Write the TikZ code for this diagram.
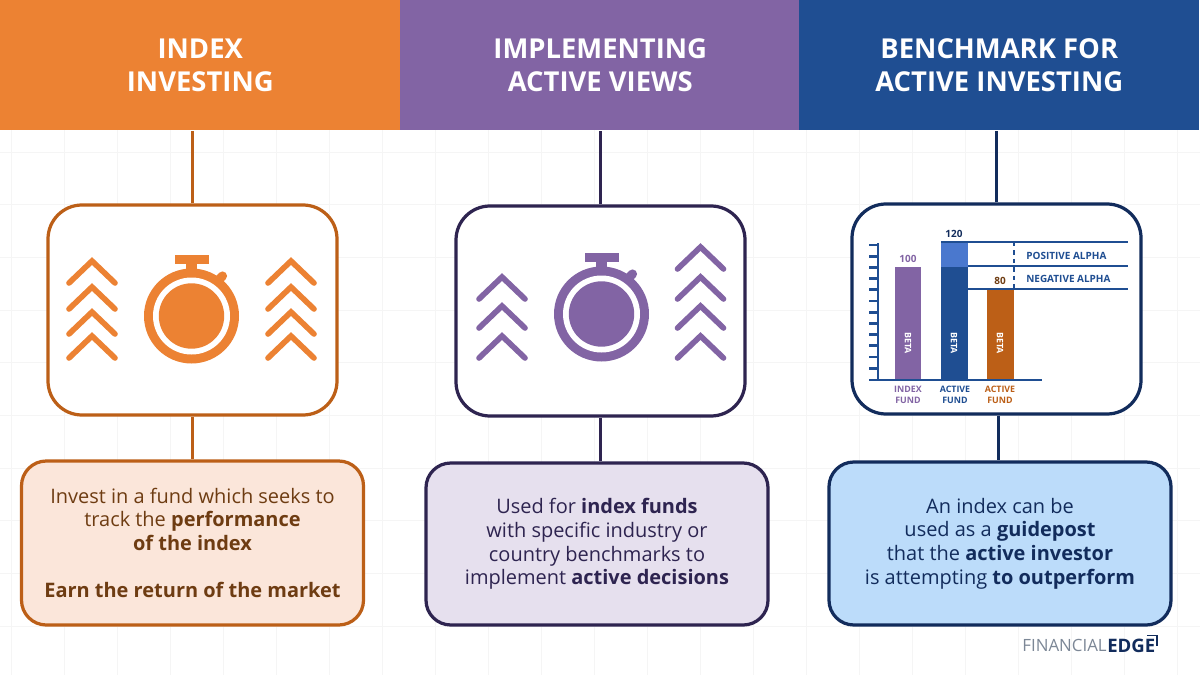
\documentclass[tikz,border=0pt]{standalone}
\usepackage{fontspec}
\setmainfont{Open Sans}
\usetikzlibrary{positioning}
\definecolor{orangehead}{HTML}{EC8233}
\definecolor{orangeline}{HTML}{BC5F17}
\definecolor{orangefill}{HTML}{FBE6DA}
\definecolor{orangetext}{HTML}{6E3C12}
\definecolor{purplehead}{HTML}{8264A4}
\definecolor{purpleline}{HTML}{2E2450}
\definecolor{purplefill}{HTML}{E6E0EE}
\definecolor{bluehead}{HTML}{1F4E92}
\definecolor{blueline}{HTML}{122C5C}
\definecolor{bluefill}{HTML}{BCDCFA}
\definecolor{bluelight}{HTML}{4A78CE}
\definecolor{gridline}{HTML}{F5F5F5}
\definecolor{logogray}{HTML}{7C8796}
\tikzset{
  header/.style={fill=#1, text=white, minimum width=400*0.025cm, minimum height=130*0.025cm,
    inner sep=0pt, align=center, font=\fontsize{19.5}{23.5}\selectfont\bfseries},
  iconbox/.style={draw=#1, fill=white, line width=2.3pt, rounded corners=0.85cm,
    minimum width=289*0.025cm, minimum height=210*0.025cm, inner sep=0pt},
  textbox/.style={draw=#1, line width=2.3pt, rounded corners=0.62cm,
    minimum width=342*0.025cm, inner sep=0pt, align=center,
    font=\fontsize{14.2}{16.8}\selectfont},
  link/.style={draw=#1, line width=2.3pt},
  chevron/.style={draw=#1, line width=4pt, line cap=round},
  chartlabel/.style={text=#1, font=\fontsize{7.1}{7.9}\selectfont\bfseries, align=center, inner sep=0pt},
  fundlabel/.style={text=#1, font=\fontsize{6.3}{7.9}\selectfont\bfseries, align=center, inner sep=0pt},
  alphaline/.style={draw=bluehead, line width=0.9pt}
}
% one chevron, #1 colour, apex at (#2,#3)
\newcommand{\chev}[3]{\draw[chevron=#1] (#2-23,#3+22) -- (#2,#3) -- (#2+23,#3+22);}
% stopwatch, #1 colour, centre (#2,#3)
\newcommand{\watch}[3]{
  \fill[#1] (#2-17,#3-61) rectangle (#2+17,#3-52);
  \fill[#1] (#2-5.5,#3-54) rectangle (#2+5.5,#3-42);
  \draw[#1, line width=6.5pt, line cap=round] (#2+24,#3-33) -- (#2+31,#3-40);
  \fill[#1] (#2,#3) circle (47.5);
  \fill[white] (#2,#3) circle (38.5);
  \fill[#1] (#2,#3) circle (32.7);
}
\begin{document}
\begin{tikzpicture}[x=0.025cm, y=-0.025cm]
  \useasboundingbox (0,0) rectangle (1200,675);
  \fill[white] (0,0) rectangle (1200,675);
  % faint squares behind
  \foreach \gx in {0,...,22}
    \draw[gridline, line width=0.6pt] (11+53*\gx,130) -- (11+53*\gx,675);
  \foreach \gy in {0,...,9}
    \draw[gridline, line width=0.6pt] (0,152+52.7*\gy) -- (1200,152+52.7*\gy);

  \node[header=orangehead, anchor=north west] (headA) at (0,0) {INDEX\\INVESTING};
  \node[header=purplehead, anchor=north west] (headB) at (400,0) {IMPLEMENTING\\ACTIVE VIEWS};
  \node[header=bluehead, anchor=north west] (headC) at (799,0) {BENCHMARK FOR\\ACTIVE INVESTING};

  \node[iconbox=orangeline] (boxA) at (192.5,310) {};
  \node[iconbox=purpleline] (boxB) at (600.5,311) {};
  \node[iconbox=blueline] (boxC) at (996.5,309) {};

  \node[textbox=orangeline, fill=orangefill, text=orangetext, minimum height=164*0.025cm] (noteA) at (192.5,543)
    {Invest in a fund which seeks to\\track the \textbf{performance}\\\textbf{of the index}\\[\baselineskip]\textbf{Earn the return of the market}};
  \node[textbox=purpleline, fill=purplefill, text=purpleline, minimum height=162*0.025cm] (noteB) at (597,544)
    {Used for \textbf{index funds}\\with specific industry or\\country benchmarks to\\implement \textbf{active decisions}};
  \node[textbox=blueline, fill=bluefill, text=blueline, minimum height=163*0.025cm] (noteC) at (1000,543.5)
    {An index can be\\used as a \textbf{guidepost}\\that the \textbf{active investor}\\is attempting \textbf{to outperform}};

  \draw[link=orangeline] (boxA.north) -- (boxA.north |- headA.south);
  \draw[link=orangeline] (boxA.south) -- (boxA.south |- noteA.north);
  \draw[link=purpleline] (boxB.north) -- (boxB.north |- headB.south);
  \draw[link=purpleline] (boxB.south) -- (boxB.south |- noteB.north);
  \draw[link=blueline] (boxC.north) -- (boxC.north |- headC.south);
  \draw[link=blueline] ([xshift=0.04cm]boxC.south) -- ([xshift=0.04cm]boxC.south |- noteC.north);

  % icons
  \watch{orangehead}{191.5}{316}
  \foreach \ay in {261,287,312,336} {
    \chev{orangehead}{92}{\ay}
    \chev{orangehead}{291}{\ay}
  }
  \watch{purplehead}{601.5}{314}
  \foreach \ay in {277,306,336} {
    \chev{purplehead}{502}{\ay}
  }
  \foreach \ay in {247,277,306,336} {
    \chev{purplehead}{700.5}{\ay}
  }

  % chart
  \fill[purplehead] (895,267) rectangle (921,380);
  \fill[bluehead] (941,267) rectangle (968,380);
  \fill[bluelight] (941,242) rectangle (968,267);
  \fill[orangeline] (987,289) rectangle (1014,380);
  \draw[alphaline] (941,242) -- (1128,242);
  \draw[alphaline] (968,266) -- (1128,266);
  \draw[alphaline] (941,289) -- (1128,289);
  \draw[alphaline, dashed] (1014,242) -- (1014,289);
  \draw[bluehead, line width=2.1pt] (878,243) -- (878,380);
  \draw[bluehead, line width=2.1pt] (869,380) -- (1042,380);
  \foreach \ty in {0,...,11}
    \draw[bluehead, line width=2.1pt] (869,245+11.2*\ty) -- (878,245+11.2*\ty);
  \node[chartlabel=purplehead] (valA) at (908,259) {100};
  \node[chartlabel=blueline] (valB) at (954,234) {120};
  \node[chartlabel=orangetext] (valC) at (1000,281) {80};
  \node[chartlabel=bluehead, anchor=west] (posAlpha) at (1026,256) {POSITIVE ALPHA};
  \node[chartlabel=bluehead, anchor=west] (negAlpha) at (1026,279) {NEGATIVE ALPHA};
  \node[fundlabel=white, rotate=-90] (betaA) at (908,343) {BETA};
  \node[fundlabel=white, rotate=-90] (betaB) at (954,343) {BETA};
  \node[fundlabel=white, rotate=-90] (betaC) at (1000,343) {BETA};
  \node[fundlabel=purplehead] (fundA) at (908,394.5) {INDEX\\FUND};
  \node[fundlabel=bluehead] (fundB) at (955,394.5) {ACTIVE\\FUND};
  \node[fundlabel=orangeline] (fundC) at (1000,394.5) {ACTIVE\\FUND};

  % logo
  \node[anchor=east, inner sep=0pt, font=\fontsize{12}{14}\selectfont, text=logogray] (logoA) at (1107,645.5) {FINANCIAL};
  \node[anchor=west, inner sep=0pt, font=\fontsize{13.2}{14}\selectfont\bfseries, text=blueline] (logoB) at (logoA.east) {EDGE};
  \draw[blueline, line width=0.9pt] (1147,635.5) -- (1157,635.5) -- (1157,646);
\end{tikzpicture}
\end{document}
